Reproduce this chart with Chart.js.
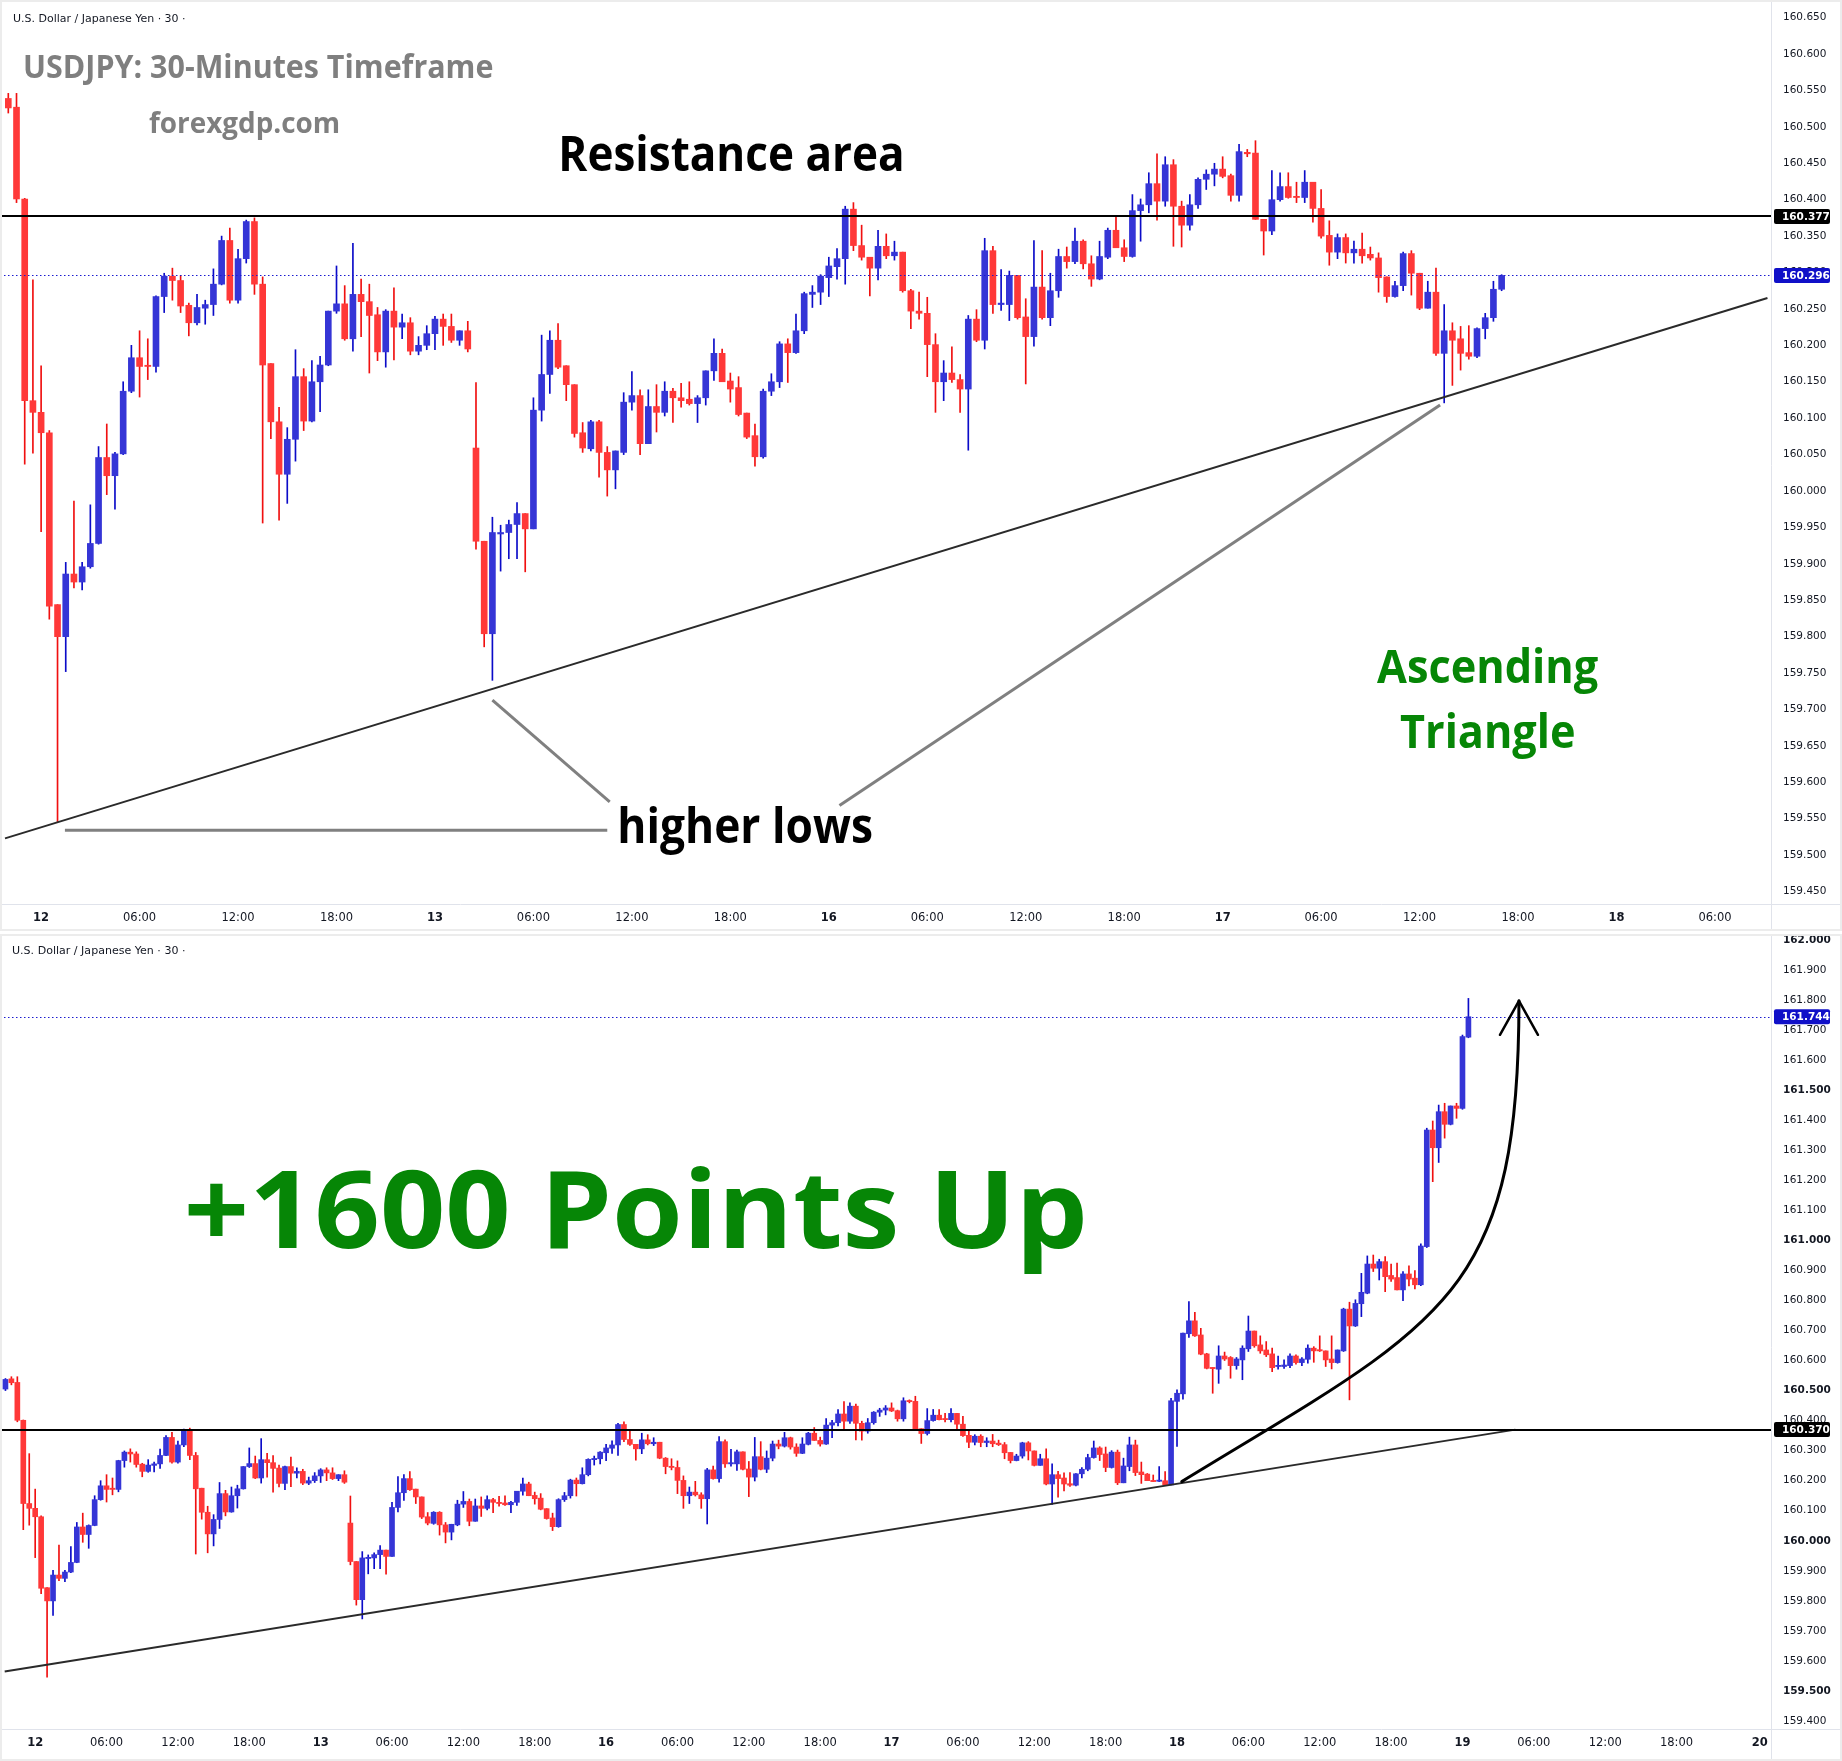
<!DOCTYPE html>
<html>
<head>
<meta charset="utf-8">
<title>USDJPY 30-Minutes Timeframe</title>
<script src="https://cdn.jsdelivr.net/npm/chart.js@4.4.1/dist/chart.umd.min.js"></script>
<style>
  html, body { margin: 0; padding: 0; background: #ffffff; }
  body { width: 1842px; height: 1761px; position: relative; overflow: hidden; }
  #c1 { position: absolute; left: 0; top: 0; }
  #c2 { position: absolute; left: 0; top: 934px; }
</style>
</head>
<body>
<canvas id="c1" width="1842" height="931"></canvas>
<canvas id="c2" width="1842" height="827"></canvas>
<script>
// ---------------- DATA ----------------
// candle index of the first entry (30-minute bars, index 4 = "12" 00:00)
const FIRST_INDEX = -1;

const opens = [
  160.505,160.539,160.527,160.401,160.124,160.108,160.080,159.844,159.800,159.886,
  159.875,159.896,159.928,160.046,160.021,160.051,160.137,160.183,160.172,160.171,
  160.267,160.295,160.289,160.255,160.231,160.251,160.256,160.284,160.344,160.262,
  160.319,160.370,160.284,160.175,160.095,160.023,160.071,160.157,160.096,160.150,
  160.173,160.247,160.257,160.209,160.270,160.260,160.242,160.191,160.247,160.225,
  160.231,160.192,160.200,160.216,160.236,160.226,160.207,160.220,160.059,159.931,
  159.804,159.941,159.943,159.954,159.969,159.948,160.111,160.160,160.207,160.172,
  160.146,160.080,160.058,160.095,160.053,160.029,160.053,160.122,160.131,160.065,
  160.116,160.108,160.137,160.128,160.126,160.120,160.128,160.165,160.189,160.151,
  160.142,160.107,160.076,160.047,160.137,160.150,160.202,160.190,160.220,160.270,
  160.273,160.293,160.308,160.319,160.387,160.337,160.321,160.306,160.336,160.323,
  160.328,160.275,160.247,160.244,160.201,160.150,160.162,160.153,160.140,160.236,
  160.207,160.330,160.256,160.256,160.296,160.239,160.212,160.280,160.238,160.275,
  160.322,160.315,160.343,160.312,160.291,160.321,160.358,160.334,160.322,160.385,
  160.393,160.422,160.398,160.448,160.391,160.365,160.393,160.428,160.435,160.442,
  160.433,160.406,160.465,160.464,160.373,160.357,160.400,160.418,160.404,160.403,
  160.424,160.388,160.351,160.328,160.348,160.327,160.332,160.325,160.320,160.294,
  160.267,160.282,160.326,160.299,160.251,160.273,160.189,160.220,160.209,160.190,
  160.185,160.223,160.238,160.277,160.309,160.289,160.244,160.295,160.193,160.247,
  160.319,160.229,160.222,160.201,160.198,160.200,160.186,160.464,160.489,160.689,
  160.732,160.685,160.622,160.576,160.571,160.615,160.610,160.583,160.602,160.639,
  160.698,160.652,160.635,160.622,160.580,160.580,160.583,160.615,160.593,160.604,
  160.641,160.635,160.632,160.605,160.593,160.632,160.771,160.715,160.789,160.824,
  160.921,160.907,160.929,160.883,160.876,160.835,160.888,160.874,160.852,160.979,
  161.367,161.308,161.428,161.386,161.447,161.439,161.676
];
const highs = [
  160.540,160.546,160.546,160.402,160.290,160.172,160.083,159.844,159.902,159.986,
  159.902,159.981,160.061,160.092,160.053,160.150,160.200,160.220,160.209,160.268,
  160.299,160.306,160.296,160.258,160.270,160.262,160.305,160.350,160.361,160.332,
  160.372,160.375,160.294,160.175,160.115,160.087,160.194,160.168,160.179,160.185,
  160.247,160.309,160.282,160.340,160.291,160.284,160.252,160.249,160.279,160.243,
  160.238,160.212,160.227,160.240,160.243,160.243,160.220,160.233,160.149,159.931,
  159.964,159.953,159.960,159.984,159.969,160.128,160.214,160.220,160.230,160.172,
  160.146,160.094,160.097,160.097,160.061,160.055,160.135,160.164,160.139,160.139,
  160.146,160.150,160.141,160.148,160.150,160.131,160.165,160.209,160.195,160.162,
  160.157,160.107,160.092,160.140,160.161,160.205,160.209,160.243,160.273,160.282,
  160.297,160.321,160.333,160.391,160.396,160.365,160.321,160.358,160.353,160.343,
  160.328,160.277,160.273,160.266,160.216,160.179,160.198,160.160,160.241,160.249,
  160.347,160.336,160.304,160.302,160.296,160.264,160.344,160.330,160.299,160.332,
  160.335,160.361,160.345,160.323,160.343,160.361,160.377,160.345,160.407,160.401,
  160.437,160.463,160.459,160.455,160.398,160.407,160.430,160.441,160.450,160.459,
  160.435,160.476,160.469,160.481,160.373,160.440,160.437,160.437,160.424,160.440,
  160.424,160.414,160.371,160.353,160.353,160.343,160.354,160.335,160.327,160.294,
  160.288,160.328,160.330,160.299,160.288,160.306,160.256,160.231,160.226,160.227,
  160.224,160.244,160.288,160.332,160.313,160.312,160.300,160.302,160.275,160.345,
  160.335,160.262,160.224,160.219,160.247,160.230,160.474,160.502,160.691,160.796,
  160.760,160.707,160.624,160.576,160.649,160.628,160.613,160.610,160.649,160.748,
  160.698,160.682,160.663,160.641,160.615,160.602,160.622,160.619,160.610,160.652,
  160.646,160.682,160.632,160.682,160.635,160.774,160.794,160.802,160.890,160.948,
  160.951,160.937,160.946,160.921,160.924,160.896,160.915,160.899,160.988,161.373,
  161.397,161.450,161.456,161.447,161.456,161.683,161.805
];
const lows = [
  160.500,160.519,160.396,160.037,160.052,159.944,159.824,159.546,159.752,159.867,
  159.864,159.894,159.927,159.995,159.975,160.050,160.135,160.129,160.153,160.163,
  160.245,160.262,160.245,160.213,160.228,160.229,160.241,160.283,160.258,160.258,
  160.313,160.270,159.956,160.072,159.960,159.983,160.041,160.083,160.095,160.109,
  160.172,160.244,160.207,160.192,160.212,160.162,160.179,160.170,160.180,160.209,
  160.187,160.187,160.194,160.194,160.200,160.204,160.200,160.191,159.920,159.786,
  159.740,159.890,159.907,159.907,159.889,159.948,160.096,160.134,160.168,160.124,
  160.074,160.053,160.055,160.019,159.993,160.003,160.050,160.111,160.050,160.065,
  160.081,160.103,160.094,160.115,160.118,160.094,160.118,160.152,160.150,160.122,
  160.103,160.072,160.034,160.045,160.131,160.142,160.149,160.189,160.216,160.252,
  160.256,160.267,160.291,160.284,160.330,160.317,160.268,160.290,160.319,160.317,
  160.273,160.223,160.236,160.157,160.108,160.124,160.149,160.108,160.056,160.205,
  160.195,160.244,160.248,160.234,160.236,160.147,160.199,160.236,160.227,160.266,
  160.306,160.312,160.305,160.281,160.290,160.319,160.334,160.315,160.321,160.343,
  160.382,160.372,160.391,160.336,160.335,160.358,160.388,160.414,160.419,160.430,
  160.398,160.398,160.459,160.373,160.324,160.352,160.398,160.402,160.396,160.396,
  160.369,160.347,160.310,160.319,160.313,160.313,160.313,160.317,160.273,160.259,
  160.266,160.275,160.269,160.249,160.251,160.186,160.121,160.145,160.166,160.181,
  160.183,160.209,160.233,160.275,160.267,160.230,160.242,160.187,160.193,160.233,
  160.217,160.191,160.200,160.197,160.197,160.186,160.186,160.314,160.471,160.677,
  160.680,160.619,160.572,160.491,160.524,160.600,160.541,160.571,160.536,160.630,
  160.644,160.624,160.613,160.563,160.571,160.574,160.576,160.588,160.583,160.591,
  160.594,160.630,160.580,160.572,160.591,160.630,160.469,160.713,160.746,160.822,
  160.896,160.868,160.829,160.863,160.835,160.799,160.848,160.838,160.849,160.976,
  161.195,161.259,161.340,161.384,161.406,161.436,161.674
];
const closes = [
  160.537,160.526,160.401,160.124,160.108,160.080,159.842,159.800,159.886,159.875,
  159.896,159.928,160.046,160.021,160.051,160.137,160.183,160.171,160.171,160.267,
  160.295,160.289,160.254,160.231,160.252,160.256,160.284,160.344,160.262,160.319,
  160.370,160.284,160.173,160.095,160.023,160.071,160.157,160.096,160.150,160.173,
  160.247,160.257,160.209,160.270,160.260,160.241,160.191,160.247,160.225,160.231,
  160.192,160.200,160.216,160.236,160.226,160.207,160.220,160.195,159.931,159.804,
  159.943,159.943,159.954,159.969,159.948,160.111,160.160,160.207,160.170,160.146,
  160.079,160.059,160.095,160.053,160.029,160.055,160.122,160.131,160.065,160.116,
  160.108,160.137,160.128,160.124,160.120,160.128,160.165,160.189,160.150,160.140,
  160.105,160.074,160.047,160.137,160.150,160.202,160.190,160.220,160.271,160.273,
  160.295,160.309,160.319,160.387,160.337,160.321,160.306,160.336,160.323,160.328,
  160.275,160.247,160.244,160.201,160.150,160.162,160.153,160.140,160.236,160.207,
  160.330,160.256,160.258,160.296,160.238,160.212,160.280,160.238,160.275,160.322,
  160.315,160.343,160.312,160.291,160.322,160.358,160.334,160.322,160.385,160.393,
  160.422,160.398,160.448,160.391,160.365,160.393,160.428,160.435,160.442,160.432,
  160.406,160.466,160.463,160.373,160.357,160.400,160.418,160.403,160.403,160.424,
  160.388,160.350,160.328,160.348,160.327,160.332,160.323,160.320,160.293,160.267,
  160.282,160.326,160.299,160.251,160.273,160.189,160.220,160.207,160.189,160.185,
  160.223,160.238,160.277,160.309,160.287,160.244,160.295,160.193,160.249,160.319,
  160.227,160.220,160.200,160.197,160.200,160.186,160.466,160.491,160.691,160.732,
  160.682,160.621,160.574,160.573,160.615,160.605,160.583,160.605,160.641,160.698,
  160.649,160.632,160.619,160.576,160.583,160.585,160.615,160.593,160.605,160.641,
  160.632,160.632,160.602,160.593,160.635,160.771,160.715,160.790,160.827,160.921,
  160.907,160.929,160.879,160.871,160.835,160.888,160.871,160.852,160.981,161.367,
  161.308,161.428,161.386,161.447,161.439,161.678,161.744
];

// top chart was captured while the last bar was still open
const topFirstIndex = 0;
const topLastIndex = 182;
const topLastClose = 160.296;
const topLastHigh = 160.297;

// horizontal levels
const topResistance = 160.377;
const topLastPrice = 160.296;
const bottomResistance = 160.370;
const bottomLastPrice = 161.744;

// price axis tick labels
const topPriceTicks = ['160.650','160.600','160.550','160.500','160.450','160.400','160.350','160.300',
  '160.250','160.200','160.150','160.100','160.050','160.000','159.950','159.900','159.850','159.800',
  '159.750','159.700','159.650','159.600','159.550','159.500','159.450'];
const bottomPriceTicks = ['162.000','161.900','161.800','161.700','161.600','161.500','161.400','161.300',
  '161.200','161.100','161.000','160.900','160.800','160.700','160.600','160.500','160.400','160.300',
  '160.200','160.100','160.000','159.900','159.800','159.700','159.600','159.500','159.400'];
// price labels shown in bold on the bottom axis
const bottomBoldTicks = ['162.000','161.500','161.000','160.500','160.000','159.500'];

// time axis tick labels (bar index, text)
const topTimeTickIndex = [4,16,28,40,52,64,76,88,100,112,124,136,148,160,172,184,196,208];
const topTimeLabels = ['12','06:00','12:00','18:00','13','06:00','12:00','18:00','16','06:00','12:00','18:00',
  '17','06:00','12:00','18:00','18','06:00'];
const bottomTimeTickIndex = [4,16,28,40,52,64,76,88,100,112,124,136,148,160,172,184,196,208,220,232,244,256,268,280,294];
const bottomTimeLabels = ['12','06:00','12:00','18:00','13','06:00','12:00','18:00','16','06:00','12:00','18:00',
  '17','06:00','12:00','18:00','18','06:00','12:00','18:00','19','06:00','12:00','18:00','20'];

// drawn lines, in (bar index, price)
const topTrendLine = [[-0.4, 159.523], [214.4, 160.265]];
const bottomTrendLine = [[-1.13, 159.565], [252.9, 160.370]];
const higherLowPointers = [
  [[6.9, 159.534], [73.0, 159.534]],
  [[59.0, 159.713], [73.3, 159.573]],
  [[101.3, 159.568], [174.5, 160.118]]
];
const arrowCurve = [[196.8, 160.197], [240.5, 160.726], [253.5, 160.801], [253.5, 161.797]];

// ---------------- DRAWING ----------------
const UP_BODY = '#3535d6', DOWN_BODY = '#ff3838', UP_WICK = '#0b0bc8', DOWN_WICK = '#f01010';
const AXIS_TEXT = '#131722', BORDER = '#e0e3eb', GREEN = '#068606', GRAY_TXT = '#7f7f7f';

function candleSet(fromIdx, toIdx, lastClose, lastHigh) {
  const out = [];
  for (let k = 0; k < opens.length; k++) {
    const i = FIRST_INDEX + k;
    if (i < fromIdx || i > toIdx) continue;
    let o = opens[k], h = highs[k], l = lows[k], c = closes[k];
    if (lastClose !== undefined && i === toIdx) { c = lastClose; h = lastHigh; }
    out.push({ i, o, h, l, c });
  }
  return out;
}

function fitText(ctx, text, left, baseline, width, capH, weight, family, color) {
  ctx.save();
  ctx.font = weight + ' 100px ' + family;
  const ratio = (ctx.measureText('H').actualBoundingBoxAscent / 100) || 0.714;
  const size = capH / ratio;
  ctx.font = weight + ' ' + size + 'px ' + family;
  const m = ctx.measureText(text);
  const abl = m.actualBoundingBoxLeft || 0;
  const gw = (m.actualBoundingBoxRight + abl) || m.width;
  const sx = width / gw;
  ctx.translate(left, baseline);
  ctx.scale(sx, 1);
  ctx.textAlign = 'left';
  ctx.textBaseline = 'alphabetic';
  ctx.fillStyle = color;
  ctx.fillText(text, abl, 0);
  ctx.restore();
}

function P(chart, pt) {
  return [chart.scales.x.getPixelForValue(pt[0]), chart.scales.y.getPixelForValue(pt[1])];
}

function seg(ctx, chart, a, b, color, w, dash) {
  const p1 = P(chart, a), p2 = P(chart, b);
  ctx.save();
  ctx.strokeStyle = color; ctx.lineWidth = w; ctx.setLineDash(dash || []);
  ctx.beginPath(); ctx.moveTo(p1[0], p1[1]); ctx.lineTo(p2[0], p2[1]); ctx.stroke();
  ctx.restore();
}

function hLine(ctx, chart, value, color, w, dash) {
  const a = chart.chartArea;
  const y = Math.round(chart.scales.y.getPixelForValue(value)) + (w % 2 ? 0.5 : 0);
  ctx.save();
  ctx.strokeStyle = color; ctx.lineWidth = w; ctx.setLineDash(dash || []);
  ctx.beginPath(); ctx.moveTo(a.left, y); ctx.lineTo(a.right, y); ctx.stroke();
  ctx.restore();
}

function priceBox(ctx, chart, value, bg) {
  const a = chart.chartArea;
  const y = chart.scales.y.getPixelForValue(value);
  ctx.save();
  ctx.fillStyle = bg;
  ctx.beginPath();
  if (ctx.roundRect) ctx.roundRect(a.right + 3, y - 7.5, 56, 15, 2); else ctx.rect(a.right + 3, y - 7.5, 56, 15);
  ctx.fill();
  ctx.fillStyle = '#ffffff';
  ctx.font = 'bold 10.5px "DejaVu Sans"';
  ctx.textAlign = 'left'; ctx.textBaseline = 'middle';
  ctx.fillText(value.toFixed(3), a.right + 11, y + 0.5);
  ctx.restore();
}

function frame(ctx, chart) {
  const a = chart.chartArea, W = chart.width, H = chart.height;
  ctx.save();
  ctx.strokeStyle = BORDER; ctx.lineWidth = 1;
  ctx.beginPath();
  ctx.moveTo(Math.round(a.right) + 0.5, 0); ctx.lineTo(Math.round(a.right) + 0.5, H);
  ctx.moveTo(0, Math.round(a.bottom) + 0.5); ctx.lineTo(W, Math.round(a.bottom) + 0.5);
  ctx.stroke();
  ctx.lineWidth = 2; ctx.strokeStyle = '#ececec';
  ctx.strokeRect(1, 1, W - 2, H - 2);
  ctx.restore();
}

function overlayPlugin(drawLines, drawTop) {
  return {
    id: 'overlay',
    afterDatasetsDraw(chart) {
      const ctx = chart.ctx, a = chart.chartArea;
      ctx.save();
      ctx.beginPath(); ctx.rect(a.left, a.top, a.right - a.left, a.bottom - a.top); ctx.clip();
      drawLines(ctx, chart);
      ctx.restore();
    },
    afterDraw(chart) { drawTop(chart.ctx, chart); }
  };
}

function makeChart(canvas, candles, cfg) {
  const labelMap = {};
  cfg.timeIdx.forEach((v, k) => { labelMap[v] = cfg.timeLabels[k]; });
  const yTicks = cfg.priceTicks.map(Number);
  const boldSet = (cfg.boldTicks || []).map(Number);
  const up = candles.map(d => d.c >= d.o);
  return new Chart(canvas, {
    type: 'bar',
    data: {
      datasets: [
        {
          label: 'wick',
          data: candles.map(d => ({ x: d.i, y: [d.l, d.h] })),
          backgroundColor: up.map(u => u ? UP_WICK : DOWN_WICK),
          barThickness: 1, grouped: false, order: 2, borderWidth: 0
        },
        {
          label: 'body',
          data: candles.map(d => ({ x: d.i, y: [d.o, d.c] })),
          backgroundColor: up.map(u => u ? UP_BODY : DOWN_BODY),
          barThickness: cfg.bodyW, minBarLength: 1.2, grouped: false, order: 1, borderWidth: 0
        }
      ]
    },
    options: {
      responsive: false, animation: false, devicePixelRatio: 1,
      layout: { padding: 0 },
      events: [],
      plugins: { legend: { display: false }, tooltip: { enabled: false }, title: { display: false } },
      scales: {
        x: {
          type: 'linear', min: cfg.xMin, max: cfg.xMax, offset: false,
          grid: { display: false, drawTicks: false, tickLength: 0 },
          border: { display: false },
          afterBuildTicks: s => { s.ticks = cfg.timeIdx.map(v => ({ value: v })); },
          afterFit: s => { s.height = cfg.xAxisH; s.paddingLeft = 0; s.paddingRight = 0; },
          ticks: {
            autoSkip: false, maxRotation: 0, minRotation: 0, padding: 7, color: AXIS_TEXT,
            font: c => ({ family: '"DejaVu Sans"', size: 11.5,
              weight: (c.tick && String(labelMap[c.tick.value] || '').indexOf(':') < 0) ? 'bold' : 'normal' }),
            callback: v => labelMap[v] !== undefined ? labelMap[v] : ''
          }
        },
        y: {
          type: 'linear', position: 'right', min: cfg.yMin, max: cfg.yMax,
          grid: { display: false, drawTicks: false, tickLength: 0 },
          border: { display: false },
          afterBuildTicks: s => { s.ticks = yTicks.map(v => ({ value: v })); },
          afterFit: s => { s.width = 71; s.paddingTop = 0; s.paddingBottom = 0; },
          ticks: {
            crossAlign: 'near', padding: 12, color: AXIS_TEXT,
            font: c => ({ family: '"DejaVu Sans"', size: 10.5,
              weight: (c.tick && boldSet.some(b => Math.abs(b - c.tick.value) < 1e-6)) ? 'bold' : 'normal' }),
            callback: v => Number(v).toFixed(3)
          }
        }
      }
    },
    plugins: [cfg.plugin]
  });
}

function build() {
  // ---- top chart ----
  const topCandles = candleSet(topFirstIndex, topLastIndex, topLastClose, topLastHigh);
  const topPlugin = overlayPlugin(
    (ctx, chart) => {
      seg(ctx, chart, topTrendLine[0], topTrendLine[1], '#2a2a2a', 2);
      higherLowPointers.forEach(p => seg(ctx, chart, p[0], p[1], '#808080', 3));
      hLine(ctx, chart, topResistance, '#000000', 2);
      hLine(ctx, chart, topLastPrice, '#1a1ad0', 1, [1.5, 2.5]);
    },
    (ctx, chart) => {
      frame(ctx, chart);
      priceBox(ctx, chart, topResistance, '#000000');
      priceBox(ctx, chart, topLastPrice, '#1010c8');
      fitText(ctx, 'U.S. Dollar / Japanese Yen \u00b7 30 \u00b7', 13, 22, 172, 8.3, 'normal', '"DejaVu Sans"', AXIS_TEXT);
      fitText(ctx, 'USDJPY: 30-Minutes Timeframe', 25, 77.5, 468, 22.5, 'bold', '"Open Sans"', GRAY_TXT);
      fitText(ctx, 'forexgdp.com', 149, 133, 190, 20.7, 'bold', '"Open Sans"', GRAY_TXT);
      fitText(ctx, 'Resistance area', 562, 171, 340, 34.4, 'bold', '"Open Sans"', '#000000');
      fitText(ctx, 'higher lows', 620, 843, 252, 35, 'bold', '"Open Sans"', '#000000');
      fitText(ctx, 'Ascending', 1377, 683, 221, 33.5, 'bold', '"Open Sans"', GREEN);
      fitText(ctx, 'Triangle', 1400, 747.5, 174, 33.7, 'bold', '"Open Sans"', GREEN);
    }
  );
  makeChart(document.getElementById('c1'), topCandles, {
    xMin: -1.0116, xMax: 214.83, yMin: 159.4329, yMax: 160.6742,
    priceTicks: topPriceTicks, timeIdx: topTimeTickIndex, timeLabels: topTimeLabels,
    bodyW: 6, xAxisH: 27, plugin: topPlugin
  });

  // ---- bottom chart ----
  const botCandles = candleSet(FIRST_INDEX, FIRST_INDEX + opens.length - 1);
  const botPlugin = overlayPlugin(
    (ctx, chart) => {
      seg(ctx, chart, bottomTrendLine[0], bottomTrendLine[1], '#2a2a2a', 2);
      hLine(ctx, chart, bottomResistance, '#000000', 2);
      hLine(ctx, chart, bottomLastPrice, '#1a1ad0', 1, [1.5, 2.5]);
      // curved arrow
      const p0 = P(chart, arrowCurve[0]), p1 = P(chart, arrowCurve[1]),
            p2 = P(chart, arrowCurve[2]), p3 = P(chart, arrowCurve[3]);
      ctx.save();
      ctx.strokeStyle = '#000000'; ctx.lineWidth = 3; ctx.lineCap = 'round'; ctx.lineJoin = 'round';
      ctx.beginPath(); ctx.moveTo(p0[0], p0[1]);
      ctx.bezierCurveTo(p1[0], p1[1], p2[0], p2[1], p3[0], p3[1]);
      ctx.stroke();
      ctx.lineWidth = 2.5;
      ctx.beginPath();
      ctx.moveTo(p3[0] - 19, p3[1] + 34); ctx.lineTo(p3[0], p3[1]); ctx.lineTo(p3[0] + 19, p3[1] + 34);
      ctx.stroke();
      ctx.restore();
    },
    (ctx, chart) => {
      frame(ctx, chart);
      priceBox(ctx, chart, bottomResistance, '#000000');
      priceBox(ctx, chart, bottomLastPrice, '#1010c8');
      fitText(ctx, 'U.S. Dollar / Japanese Yen \u00b7 30 \u00b7', 12, 19.5, 173, 8, 'normal', '"DejaVu Sans"', AXIS_TEXT);
      fitText(ctx, '+1600 Points Up', 188, 314, 895, 78, 'bold', '"Open Sans"', GREEN);
    }
  );
  makeChart(document.getElementById('c2'), botCandles, {
    xMin: -1.917, xMax: 295.88, yMin: 159.3737, yMax: 162.0193,
    priceTicks: bottomPriceTicks, boldTicks: bottomBoldTicks,
    timeIdx: bottomTimeTickIndex, timeLabels: bottomTimeLabels,
    bodyW: 5, xAxisH: 32, plugin: botPlugin
  });
}

let built = false;
function go() { if (!built) { built = true; build(); } }
if (document.fonts && document.fonts.load) {
  Promise.all([
    document.fonts.load('bold 30px "Open Sans"'),
    document.fonts.load('12px "DejaVu Sans"'),
    document.fonts.load('bold 12px "DejaVu Sans"')
  ]).then(go, go);
  setTimeout(go, 300);
} else {
  go();
}
</script>
</body>
</html>
